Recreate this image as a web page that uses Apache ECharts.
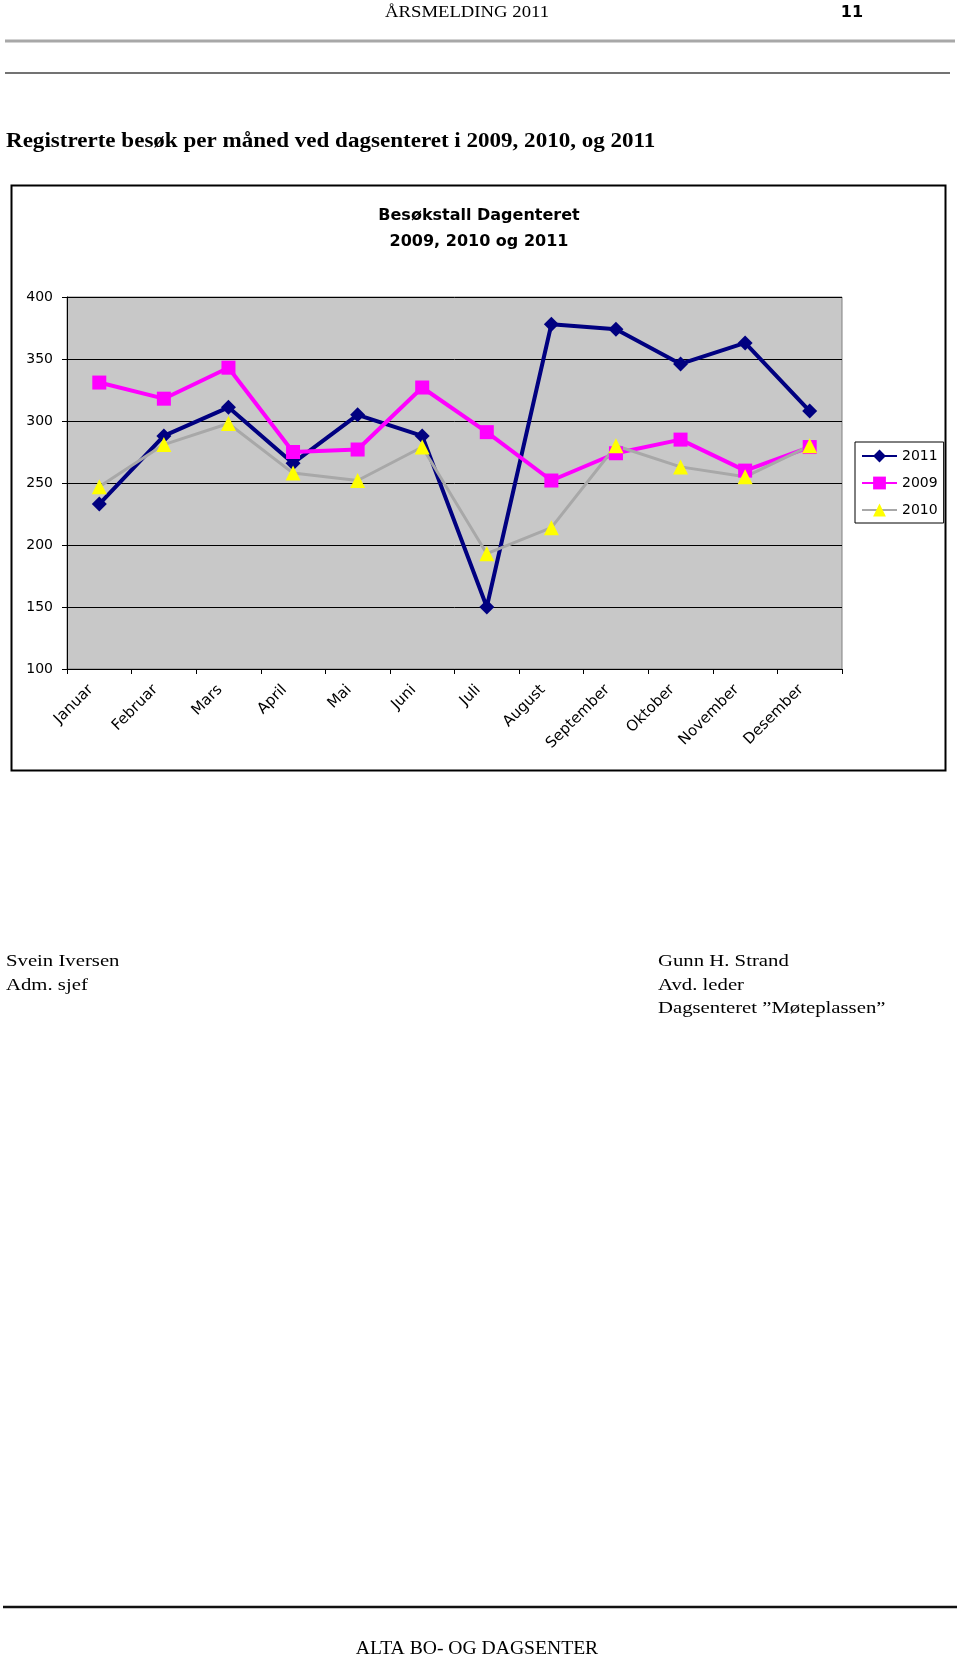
<!DOCTYPE html>
<html><head><meta charset="utf-8">
<script src="https://cdn.jsdelivr.net/npm/echarts@6/dist/echarts.min.js"></script>
<style>html,body{margin:0;padding:0;background:#fff}#c{width:960px;height:1655px}</style>
</head><body><div id="c"></div>
<script>
const months = ['Januar','Februar','Mars','April','Mai','Juni','Juli','August','September','Oktober','November','Desember'];
const values2011 = [233, 288, 311, 266, 305, 288, 150, 378, 374, 346, 363, 308];
const values2009 = [331, 318, 343, 275, 277, 327, 291, 252, 274, 285, 260, 279];
const values2010 = [247, 281, 298, 258, 252, 279, 193, 214, 280, 263, 255, 280];
const seriesNames = ['2011', '2009', '2010'];
const yMin = 100, yMax = 400, yStep = 50;
const chartTitleLines = ['Besøkstall Dagenteret', '2009, 2010 og 2011'];
const pageHeader = 'ÅRSMELDING 2011';
const pageNumber = '11';
const pageHeading = 'Registrerte besøk per måned ved dagsenteret i 2009, 2010, og 2011';
const leftSignature = ['Svein Iversen', 'Adm. sjef'];
const rightSignature = ['Gunn H. Strand', 'Avd. leder', 'Dagsenteret \u201dMøteplassen\u201d'];
const pageFooter = 'ALTA BO- OG DAGSENTER';

const SERIF = '"Liberation Serif","Times New Roman",serif';
const SANS = '"DejaVu Sans",sans-serif';

function txt(x, y, text, font, align, scaleX) {
  return {
    type: 'text', x: x, y: y, scaleX: scaleX || 1, scaleY: 1, silent: true,
    style: { text: text, font: font, fill: '#000', align: align, verticalAlign: 'middle',
             textAlign: align, textVerticalAlign: 'middle' }
  };
}
function hline(x1, x2, y, w, color) {
  return { type: 'line', silent: true, shape: { x1: x1, y1: y, x2: x2, y2: y },
           style: { stroke: color, lineWidth: w } };
}

const graphics = [
  txt(467, 13, pageHeader, '17px ' + SERIF, 'center', 1.1),
  txt(852, 13, pageNumber, 'bold 16px ' + SANS, 'center', 1),
  hline(5, 955, 41, 3, '#a8a8a8'),
  hline(5, 950, 73, 1.5, '#444'),
  txt(6, 142, pageHeading, 'bold 20px ' + SERIF, 'left', 1.152),
  { type: 'rect', silent: true, shape: { x: 11.5, y: 185.5, width: 934, height: 585 },
    style: { fill: 'none', stroke: '#000', lineWidth: 2 } },
  txt(479, 215.5, chartTitleLines[0], 'bold 16px ' + SANS, 'center', 1),
  txt(479, 241.5, chartTitleLines[1], 'bold 16px ' + SANS, 'center', 1),
  hline(3, 957, 1607, 2.5, '#111'),
  txt(477, 1649, pageFooter, '18px ' + SERIF, 'center', 1.09)
];
leftSignature.forEach((t, i) => graphics.push(txt(6, 962 + i * 23.3, t, '17px ' + SERIF, 'left', 1.22)));
rightSignature.forEach((t, i) => graphics.push(txt(658, 962 + i * 23.3, t, '17px ' + SERIF, 'left', 1.22)));

const chart = echarts.init(document.getElementById('c'), null, { renderer: 'canvas' });
chart.setOption({
  animation: false,
  backgroundColor: '#fff',
  grid: { left: 67, top: 297, width: 775, height: 372, show: true,
          backgroundColor: '#c8c8c8', borderColor: '#808080', borderWidth: 1 },
  legend: {
    orient: 'vertical', left: 855, top: 442, data: seriesNames,
    borderColor: '#000', borderWidth: 1, padding: [7, 6, 6, 6],
    itemGap: 13, itemWidth: 35, itemHeight: 16,
    textStyle: { fontFamily: SANS, fontSize: 14, color: '#000' }
  },
  xAxis: {
    type: 'category', data: months, boundaryGap: true,
    axisLine: { lineStyle: { color: '#000', width: 1 } },
    axisTick: { show: true, length: 5, inside: false, alignWithLabel: false, lineStyle: { color: '#000' } },
    axisLabel: { interval: 0, rotate: 45, margin: 10, padding: [0, 12, 0, 0],
                 fontFamily: SANS, fontSize: 15, color: '#000' }
  },
  yAxis: {
    type: 'value', min: yMin, max: yMax, interval: yStep,
    axisLine: { show: true, lineStyle: { color: '#000', width: 1 } },
    axisTick: { show: true, length: 5, inside: false, lineStyle: { color: '#000' } },
    axisLabel: { margin: 14, fontFamily: SANS, fontSize: 14, color: '#000' },
    splitLine: { show: true, lineStyle: { color: '#000', width: 1 } }
  },
  series: [
    { name: seriesNames[0], type: 'line', data: values2011, symbol: 'diamond', symbolSize: 15,
      lineStyle: { color: '#000080', width: 4 }, itemStyle: { color: '#000080', borderWidth: 0 } },
    { name: seriesNames[1], type: 'line', data: values2009, symbol: 'rect', symbolSize: 14,
      lineStyle: { color: '#ff00ff', width: 4 }, itemStyle: { color: '#ff00ff', borderWidth: 0 } },
    { name: seriesNames[2], type: 'line', data: values2010, symbol: 'triangle', symbolSize: 15,
      lineStyle: { color: '#a8a8a8', width: 3 }, itemStyle: { color: '#ffff00', borderWidth: 0 } }
  ],
  graphic: { elements: graphics }
});
</script></body></html>
